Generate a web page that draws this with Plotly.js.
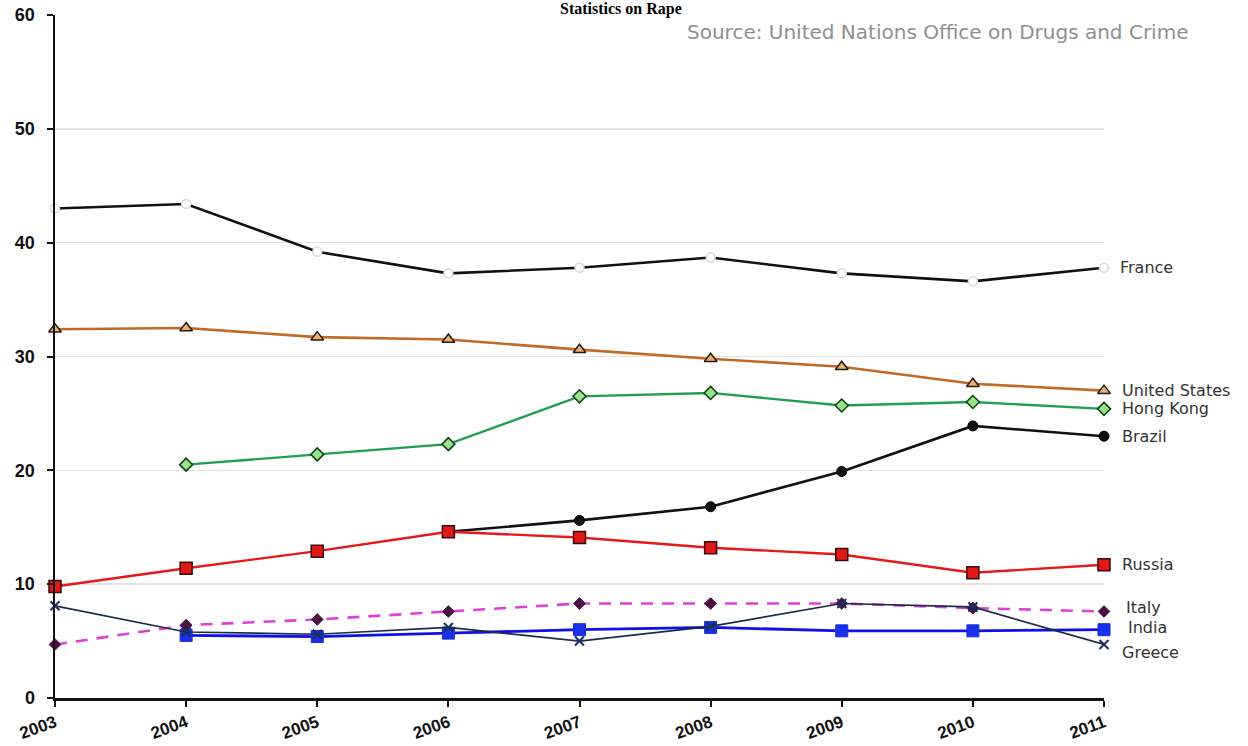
<!DOCTYPE html>
<html>
<head>
<meta charset="utf-8">
<script src="https://cdn.plot.ly/plotly-3.0.1.min.js"></script>
<style>html,body{margin:0;padding:0;background:#fff;}#chart{width:1248px;height:746px;}</style>
</head>
<body>
<div id="chart"></div>
<script>
const years = [2003, 2004, 2005, 2006, 2007, 2008, 2009, 2010, 2011];
const yTicks = [0, 10, 20, 30, 40, 50, 60];
const france = [43.0, 43.4, 39.2, 37.3, 37.8, 38.7, 37.3, 36.6, 37.8];
const unitedStates = [32.4, 32.5, 31.7, 31.5, 30.6, 29.8, 29.1, 27.6, 27.0];
const hongKong = [null, 20.5, 21.4, 22.3, 26.5, 26.8, 25.7, 26.0, 25.4];
const brazil = [null, null, null, 14.6, 15.6, 16.8, 19.9, 23.9, 23.0];
const russia = [9.8, 11.4, 12.9, 14.6, 14.1, 13.2, 12.6, 11.0, 11.7];
const italy = [4.7, 6.4, 6.9, 7.6, 8.3, 8.3, 8.3, 7.9, 7.6];
const india = [null, 5.5, 5.4, 5.7, 6.0, 6.2, 5.9, 5.9, 6.0];
const greece = [8.1, 5.8, 5.6, 6.2, 5.0, 6.3, 8.3, 8.0, 4.7];
const seriesNames = ["France", "United States", "Hong Kong", "Brazil", "Russia", "Italy", "India", "Greece"];
const titleText = "Statistics on Rape";
const sourceText = "Source: United Nations Office on Drugs and Crime";

const traces = [
  {y: france, name: seriesNames[0], line: {color: '#111111', width: 2.6},
   marker: {symbol: 'circle', size: 9, color: '#ffffff', line: {color: '#d8d8d8', width: 1.5}}},
  {y: unitedStates, name: seriesNames[1], line: {color: '#c06a28', width: 2.6},
   marker: {symbol: 'triangle-up', size: 11, color: '#e8b07a', line: {color: '#2a1a0a', width: 1.5}}},
  {y: hongKong, name: seriesNames[2], line: {color: '#1fa050', width: 2.4},
   marker: {symbol: 'diamond', size: 10, color: '#9be08a', line: {color: '#0a4010', width: 1.5}}},
  {y: brazil, name: seriesNames[3], line: {color: '#111111', width: 2.6},
   marker: {symbol: 'circle', size: 10, color: '#111111', line: {color: '#000', width: 1}}},
  {y: russia, name: seriesNames[4], line: {color: '#e81818', width: 2.4},
   marker: {symbol: 'square', size: 12, color: '#e01818', line: {color: '#3a0a0a', width: 1.5}}},
  {y: italy, name: seriesNames[5], line: {color: '#e040d8', width: 2.6, dash: '12px,9px'},
   marker: {symbol: 'diamond', size: 9, color: '#4a1040', line: {color: '#4a1040', width: 1}}},
  {y: india, name: seriesNames[6], line: {color: '#1010e8', width: 2.8},
   marker: {symbol: 'square', size: 12, color: '#1a30f0', line: {color: '#1a30c0', width: 1}}},
  {y: greece, name: seriesNames[7], line: {color: '#1c2c48', width: 1.7},
   marker: {symbol: 'x-thin', size: 9, color: '#1c2c60', line: {color: '#1c2c60', width: 2}}}
].map(t => Object.assign({x: years, type: 'scatter', mode: 'lines+markers', cliponaxis: false, connectgaps: false, hoverinfo: 'skip'}, t));

const seriesData = [france, unitedStates, hongKong, brazil, russia, italy, india, greece];
const labelShift = [0, 0, 0, 0, 0, 4, 2, -8];
const labelX = [14, 16, 16, 16, 16, 20, 22, 16];
const annotations = seriesNames.map((n, i) => ({
  x: years[years.length - 1], y: seriesData[i][seriesData[i].length - 1],
  xref: 'x', yref: 'y', text: n, showarrow: false, xanchor: 'left', yanchor: 'middle',
  xshift: labelX[i], yshift: labelShift[i],
  font: {family: 'DejaVu Sans, sans-serif', size: 16, color: '#333333'}
}));
annotations.push({
  xref: 'paper', yref: 'paper', x: 1.082, y: 0.975, xanchor: 'right', yanchor: 'middle',
  text: sourceText, showarrow: false,
  font: {family: 'DejaVu Sans, sans-serif', size: 20, color: '#8f8f8f'}
});
annotations.push({
  xref: 'paper', yref: 'paper', x: 0.54, y: 1.0, xanchor: 'center', yanchor: 'middle',
  yshift: 6, text: '<b>' + titleText + '</b>', showarrow: false,
  font: {family: 'Liberation Serif, Times New Roman, serif', size: 16, color: '#000'}
});

const layout = {
  width: 1248, height: 746,
  margin: {l: 55, r: 144, t: 15, b: 48},
  paper_bgcolor: '#ffffff', plot_bgcolor: '#ffffff',
  showlegend: false,
  xaxis: {
    range: [2003, 2011], tickvals: years, ticktext: years.map(String), tickangle: -20,
    showgrid: false, zeroline: false, showline: true, linecolor: '#111', linewidth: 2.5,
    ticks: 'outside', ticklen: 6, tickwidth: 2, tickcolor: '#111',
    tickfont: {family: 'Liberation Sans, Arial, sans-serif', size: 17, color: '#111', weight: 'bold'}
  },
  yaxis: {
    range: [0, 60], tickvals: yTicks, showgrid: true, gridcolor: '#e2e2e2', gridwidth: 1.5,
    zeroline: false, showline: true, linecolor: '#111', linewidth: 2.5,
    ticks: 'outside', ticklen: 6, tickwidth: 2, tickcolor: '#111', ticklabelstandoff: 8,
    tickfont: {family: 'Liberation Sans, Arial, sans-serif', size: 18, color: '#111', weight: 'bold'}
  },
  annotations: annotations
};

Plotly.newPlot('chart', traces, layout, {staticPlot: true, displayModeBar: false});
</script>
</body>
</html>
